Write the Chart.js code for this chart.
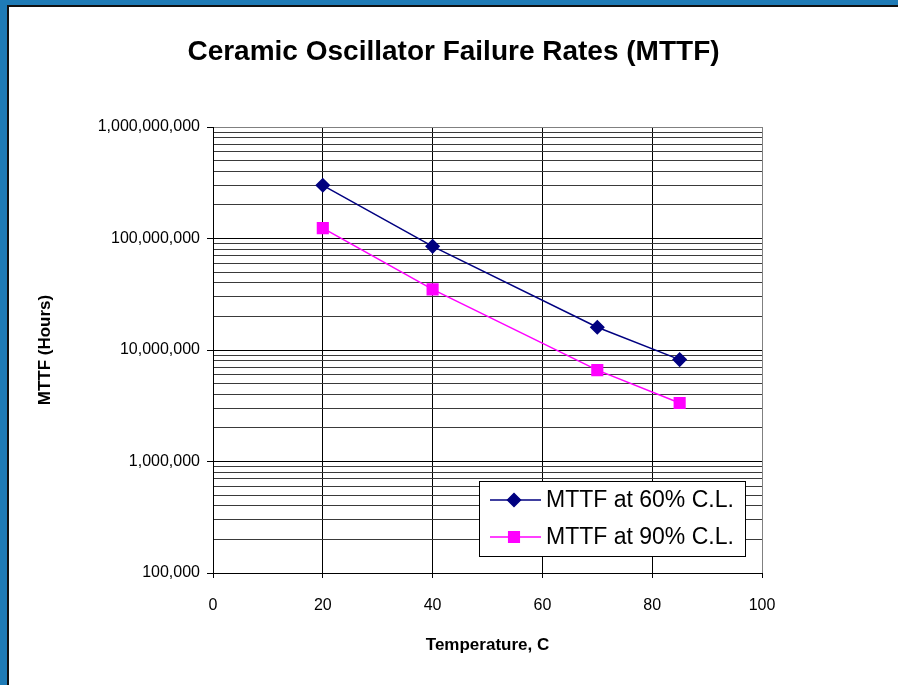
<!DOCTYPE html>
<html>
<head>
<meta charset="utf-8">
<script src="https://cdn.jsdelivr.net/npm/chart.js@4.4.1/dist/chart.umd.min.js"></script>
<style>
  html, body { margin: 0; padding: 0; width: 898px; height: 685px; overflow: hidden; background: #1f7bb6; }
  #frame { position: absolute; left: 7px; top: 5px; width: 889px; height: 678px;
           border-left: 2px solid #111; border-top: 2px solid #111; background: #fff; }
  canvas { display: block; }
</style>
</head>
<body>
<div id="frame"><canvas id="mttfChart" width="889" height="678"></canvas></div>
<script>
// Temperatures (C) and MTTF values (hours)
const temperatures = [20, 40, 70, 85];
const mttf60 = [3.0e8, 8.5e7, 1.6e7, 8.2e6];
const mttf90 = [1.24e8, 3.5e7, 6.6e6, 3.35e6];
const seriesLabels = ['MTTF at 60% C.L.', 'MTTF at 90% C.L.'];

// Axis ticks
const yDecades = [1e5, 1e6, 1e7, 1e8, 1e9];
const yTickLabels = ['100,000', '1,000,000', '10,000,000', '100,000,000', '1,000,000,000'];
const xTickValues = [0, 20, 40, 60, 80, 100];

const FONT = "'Liberation Sans', Arial, sans-serif";

// legend box drawn inside the plot, lower right (like the Excel one)
const insideLegend = {
  id: 'insideLegend',
  afterDraw(chart) {
    const { ctx, chartArea } = chart;
    const x0 = chartArea.right - 283;
    const y0 = chartArea.bottom - 92;
    ctx.save();
    ctx.fillStyle = '#fff';
    ctx.fillRect(x0, y0, 266, 75);
    ctx.strokeStyle = '#000';
    ctx.lineWidth = 1;
    ctx.strokeRect(x0 + 0.5, y0 + 0.5, 266, 75);
    chart.data.datasets.forEach((ds, i) => {
      const cy = y0 + 19 + i * 37;
      ctx.strokeStyle = ds.borderColor;
      ctx.lineWidth = ds.borderWidth;
      ctx.beginPath();
      ctx.moveTo(x0 + 11, cy);
      ctx.lineTo(x0 + 62, cy);
      ctx.stroke();
      ctx.fillStyle = ds.pointBackgroundColor;
      ctx.strokeStyle = ds.pointBorderColor;
      Chart.helpers.drawPoint(ctx, { pointStyle: ds.pointStyle, radius: ds.pointRadius, rotation: 0, borderWidth: 1 }, x0 + 35, cy);
      ctx.fillStyle = '#000';
      ctx.font = '23px ' + FONT;
      ctx.textBaseline = 'middle';
      ctx.fillText(ds.label, x0 + 67, cy + 1);
    });
    ctx.restore();
  }
};

const ctx = document.getElementById('mttfChart').getContext('2d');

const mttfChart = new Chart(ctx, {
  type: 'scatter',
  data: {
    datasets: [
      {
        label: seriesLabels[0],
        data: temperatures.map((t, i) => ({ x: t, y: mttf60[i] })),
        showLine: true,
        borderColor: '#000080',
        borderWidth: 1.5,
        pointStyle: 'rectRot',
        pointRadius: 6.5,
        pointBackgroundColor: '#000080',
        pointBorderColor: '#000080',
      },
      {
        label: seriesLabels[1],
        data: temperatures.map((t, i) => ({ x: t, y: mttf90[i] })),
        showLine: true,
        borderColor: '#ff00ff',
        borderWidth: 1.5,
        pointStyle: 'rect',
        pointRadius: 7.5,
        pointBackgroundColor: '#ff00ff',
        pointBorderColor: '#ff00ff',
      },
    ],
  },
  options: {
    responsive: false,
    animation: false,
    layout: { padding: { left: 0, right: 0, top: 28, bottom: 0 } },
    plugins: {
      legend: { display: false },
      tooltip: { enabled: false },
      title: {
        display: true,
        text: 'Ceramic Oscillator Failure Rates (MTTF)',
        color: '#000',
        font: { family: FONT, size: 28, weight: 'bold' },
        padding: { top: 0, bottom: 58.4 },
      },
    },
    scales: {
      x: {
        type: 'linear',
        min: 0,
        max: 100,
        afterFit(scale) { scale.height = 112; },
        afterBuildTicks(scale) { scale.ticks = xTickValues.map(v => ({ value: v })); },
        ticks: { color: '#000', font: { family: FONT, size: 16 }, padding: 18, maxRotation: 0 },
        grid: {
          color: c => (c.tick && c.tick.value === 100 ? '#808080' : '#000'),
          tickColor: '#000',
          tickLength: 5,
        },
        border: { display: true, color: '#000', width: 1 },
        title: {
          display: true,
          text: 'Temperature, C',
          color: '#000',
          font: { family: FONT, size: 17, weight: 'bold' },
          padding: { top: 0, bottom: 29 },
        },
      },
      y: {
        type: 'logarithmic',
        min: 1e5,
        max: 1e9,
        afterFit(scale) { scale.width = 204; },
        afterBuildTicks(scale) {
          const t = [];
          yDecades.forEach((d, i) => {
            if (i === yDecades.length - 1) { t.push({ value: d }); return; }
            for (let k = 1; k <= 9; k++) t.push({ value: d * k });
          });
          scale.ticks = t;
        },
        ticks: {
          color: '#000',
          font: { family: FONT, size: 16 },
          padding: 7,
          autoSkip: false,
          callback: v => {
            const i = yDecades.indexOf(v);
            return i >= 0 ? yTickLabels[i] : '';
          },
        },
        grid: {
          color: c => {
            const v = c.tick && c.tick.value;
            if (v === 1e9) return '#808080';
            return yDecades.includes(v) ? '#000' : '#3a3a3a';
          },
          tickColor: c => (yDecades.includes(c.tick && c.tick.value) ? '#000' : 'rgba(0,0,0,0)'),
          tickLength: 6,
        },
        border: { display: true, color: '#000', width: 1 },
        title: {
          display: true,
          text: 'MTTF (Hours)',
          color: '#000',
          font: { family: FONT, size: 17, weight: 'bold' },
          padding: { top: 26, bottom: 0 },
        },
      },
      // empty right-hand axis, only reserves the white space right of the plot
      yRight: {
        type: 'linear',
        position: 'right',
        afterFit(scale) { scale.width = 136; },
        grid: { display: false },
        ticks: { display: false },
        border: { display: false },
      },
    },
  },
  plugins: [insideLegend],
});
</script>
</body>
</html>
